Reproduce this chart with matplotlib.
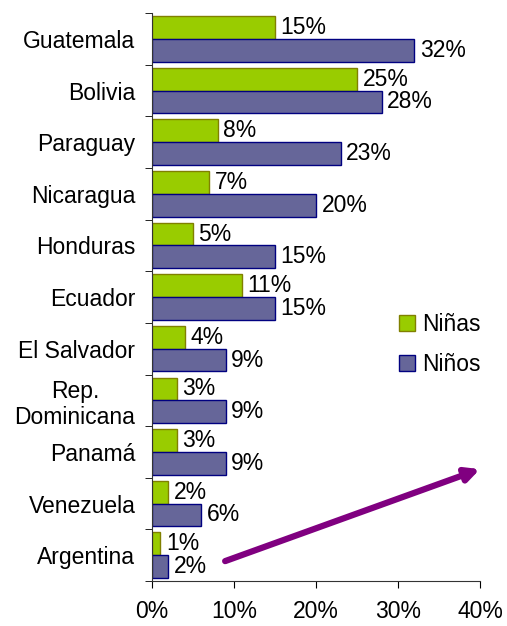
import numpy as np
import matplotlib.pyplot as plt

# countries from top to bottom
countries = ["Guatemala", "Bolivia", "Paraguay", "Nicaragua", "Honduras", "Ecuador",
             "El Salvador", "Rep.\nDominicana", "Panamá", "Venezuela", "Argentina"]
ninas = [15, 25, 8, 7, 5, 11, 4, 3, 3, 2, 1]
ninos = [32, 28, 23, 20, 15, 15, 9, 9, 9, 6, 2]
xticks = [0, 10, 20, 30, 40]

plt.rcParams['font.family'] = ['Liberation Sans', 'DejaVu Sans']
fs = 16.5

fig = plt.figure(figsize=(5.07, 6.26), dpi=100)
ax = fig.add_axes([0.2998, 0.0719, 0.6469, 0.9071])

y = np.arange(len(countries))
h = 0.44
b1 = ax.barh(y - h / 2, ninas, height=h, color='#99CC00', edgecolor='#808000',
             linewidth=1, label='Niñas')
b2 = ax.barh(y + h / 2, ninos, height=h, color='#666699', edgecolor='#000080',
             linewidth=1, label='Niños')

for bars, vals in [(b1, ninas), (b2, ninos)]:
    for bar, v in zip(bars, vals):
        ax.annotate(f"{v}%", (bar.get_width(), bar.get_y() + bar.get_height() / 2),
                    xytext=(4, 0), textcoords='offset points', va='center',
                    ha='left', fontsize=fs)

ax.set_xlim(0, 40)
ax.set_ylim(len(countries) - 0.5, -0.5)
ax.set_xticks(xticks)
ax.set_xticklabels([f"{t}%" for t in xticks], fontsize=fs)
ax.tick_params(axis='x', length=5, pad=9, direction='out')
ax.set_yticks(y)
ax.set_yticklabels(countries, fontsize=fs, multialignment='center')
ax.tick_params(axis='y', which='major', length=0, pad=12)
ax.set_yticks(np.arange(-0.5, len(countries), 1), minor=True)
ax.tick_params(axis='y', which='minor', length=5, direction='out')
ax.spines['top'].set_visible(False)
ax.spines['right'].set_visible(False)
ax.spines['left'].set_color('#333333')
ax.spines['bottom'].set_color('#333333')

ax.legend(loc='center left', bbox_to_anchor=(0.69, 0.416), frameon=False,
          fontsize=fs, handlelength=0.7, handleheight=0.7, handletextpad=0.3,
          labelspacing=0.75)

ax.annotate('', xy=(1.0, 0.197), xytext=(0.223, 0.035),
            xycoords='axes fraction', textcoords='axes fraction',
            arrowprops=dict(arrowstyle='-|>,head_length=0.8,head_width=0.4',
                            color='#800080', lw=4.5, shrinkA=0, shrinkB=0),
            annotation_clip=False)

fig.savefig('out.png', dpi=100)
